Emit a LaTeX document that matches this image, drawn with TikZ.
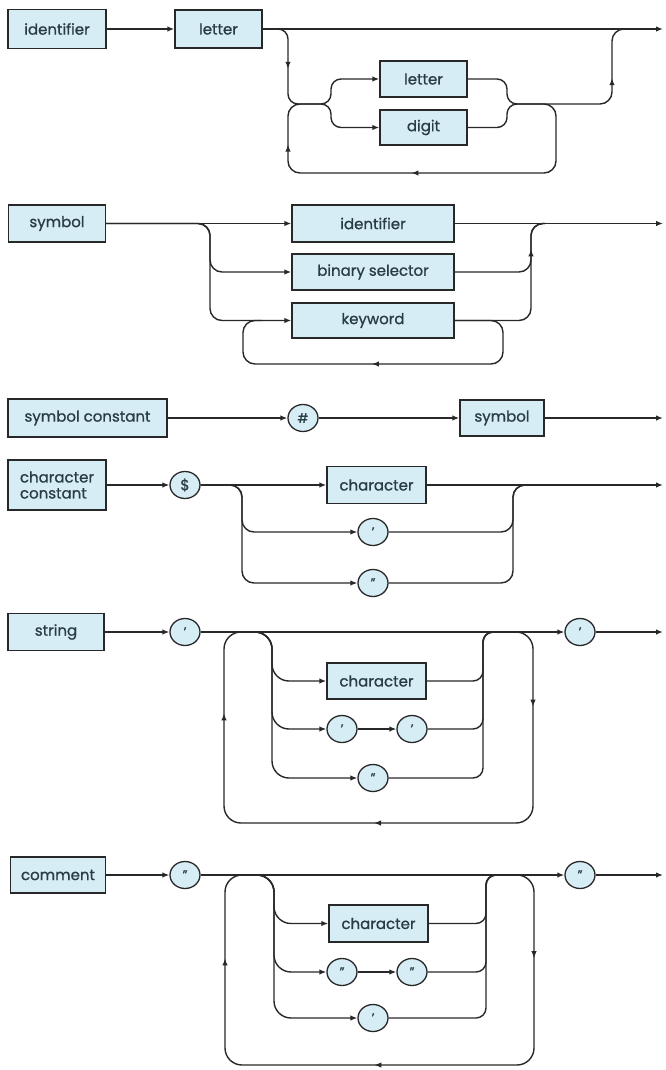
\documentclass[tikz,border=0pt]{standalone}
\usepackage{fontspec}
\setmainfont{Poppins}[FakeBold=0.9]
\usetikzlibrary{arrows.meta,decorations.markings,shapes.geometric}
\definecolor{boxfill}{RGB}{214,237,246}
\definecolor{ink}{RGB}{40,60,70}
\definecolor{wire}{RGB}{40,40,40}
\begin{document}
\begin{tikzpicture}[x=1pt,y=-1pt,
  ln/.style={draw=wire,line width=1.4pt},
  arr/.style={ln,-{Latex[length=7pt,width=5.5pt]}},
  mk/.style={postaction={decorate,decoration={markings,mark=at position #1 with {\arrow[wire]{Latex[length=7pt,width=5.5pt]}}}}},
  nt/.style={draw=wire,line width=1.4pt,fill=boxfill,text=ink,inner sep=0pt,font=\fontsize{15}{17}\selectfont},
  term/.style={ellipse,draw=wire,line width=1.3pt,fill=boxfill,text=ink,inner sep=0pt,minimum width=30,minimum height=27,font=\fontsize{13}{14}\selectfont}]
\fill[white] (0,0) rectangle (666,1070);
\useasboundingbox (0,0) rectangle (666,1070);

% ---------- identifier ----------
\node[nt,minimum width=98,minimum height=39] (id1) at (57,29) {identifier};
\node[nt,minimum width=87,minimum height=38] (let1) at (218.5,29) {letter};
\node[nt,minimum width=87,minimum height=36] (let2) at (423.5,79) {letter};
\node[nt,minimum width=87,minimum height=35] (dig) at (423.5,127.5) {digit};
\coordinate (e1) at (663,29);
\coordinate (j1) at (318,104);
\coordinate (m1) at (520,104);
\coordinate (r1) at (626,29);
\draw[arr] (id1) -- (let1);
\draw[arr] (let1) -- (e1);
\draw[ln,rounded corners=10,mk=0.5] (let1.east) -| (288,104) -- (j1);
\draw[arr,rounded corners=10] (j1) -| (331,79) -- (let2);
\draw[arr,rounded corners=10] (j1) -| (331,127.5) -- (dig);
\draw[ln,rounded corners=10] (let2) -| (507,104) -- (m1);
\draw[ln,rounded corners=10] (dig) -| (507,104) -- (m1);
\draw[ln,rounded corners=12,mk=0.66] (m1) -| (612,29) -- (r1);
\draw[ln,rounded corners=12,mk=0.53,mk=0.855] (m1) -| (556,173) -| (288,104) -- (j1);

% ---------- symbol ----------
\node[nt,minimum width=97,minimum height=37] (sym) at (57,223.5) {symbol};
\node[nt,minimum width=162,minimum height=37] (idb) at (373,223.5) {identifier};
\node[nt,minimum width=162,minimum height=36] (bsel) at (373,272) {binary selector};
\node[nt,minimum width=162,minimum height=35] (kw) at (373,320.5) {keyword};
\coordinate (e2) at (663,223.5);
\coordinate (r2) at (545,223.5);
\coordinate (k2) at (262,320.5);
\draw[arr] (sym) -- (idb);
\draw[arr] (idb) -- (e2);
\draw[arr,rounded corners=12] (sym.east) -| (210,272) -- (bsel);
\draw[arr,rounded corners=12] (sym.east) -| (210,320.5) -- (kw);
\draw[ln,rounded corners=12,mk=0.73] (bsel) -| (531,223.5) -- (r2);
\draw[ln,rounded corners=12] (kw) -| (531,223.5) -- (r2);
\draw[ln,rounded corners=12,mk=0.54] (kw.east) -| (503,364) -| (243,320.5) -- (k2);

% ---------- symbol constant ----------
\node[nt,minimum width=159,minimum height=38] (sc) at (87.5,418) {symbol constant};
\node[term] (hash) at (303,418) {\#};
\node[nt,minimum width=84,minimum height=36] (symb) at (502,418) {symbol};
\coordinate (e3) at (663,418);
\draw[arr] (sc) -- (hash);
\draw[arr] (hash) -- (symb);
\draw[arr] (symb) -- (e3);

% ---------- character constant ----------
\node[nt,minimum width=98,minimum height=50,align=left,font=\fontsize{15}{16}\selectfont] (cc) at (57,485) {character\\constant};
\node[term,font=\fontsize{15}{17}\selectfont] (dol) at (185,485) {\$};
\node[nt,minimum width=99,minimum height=37] (ch4) at (376.5,485) {character};
\node[term] (q4a) at (373,532) {\symbol{39}};
\node[term] (q4b) at (373,583) {\symbol{34}};
\coordinate (e4) at (663,485);
\coordinate (r4) at (527,485);
\draw[arr] (cc) -- (dol);
\draw[arr] (dol) -- (ch4);
\draw[arr] (ch4) -- (e4);
\draw[arr,rounded corners=12] (dol.east) -| (242,532) -- (q4a);
\draw[arr,rounded corners=12] (dol.east) -| (242,583) -- (q4b);
\draw[ln,rounded corners=12] (q4a) -| (513,485) -- (r4);
\draw[ln,rounded corners=12] (q4b) -| (513,485) -- (r4);

% ---------- string ----------
\node[nt,minimum width=96,minimum height=37] (str) at (56,632) {string};
\node[term] (q5a) at (185,632) {\symbol{39}};
\node[term] (q5b) at (580,632) {\symbol{39}};
\node[nt,minimum width=99,minimum height=36] (ch5) at (376.5,681) {character};
\node[term] (q5c) at (342,729) {\symbol{39}};
\node[term] (q5d) at (412,729) {\symbol{39}};
\node[term] (q5e) at (373,778) {\symbol{34}};
\coordinate (e5) at (663,632);
\coordinate (L5) at (248,632);
\coordinate (R5) at (508,632);
\draw[arr] (str) -- (q5a);
\draw[arr] (q5a) -- (q5b);
\draw[arr] (q5b) -- (e5);
\draw[arr,rounded corners=17] (L5) -| (272,681) [rounded corners=10] -- (ch5);
\draw[arr,rounded corners=17] (L5) -| (272,729) [rounded corners=10] -- (q5c);
\draw[arr,rounded corners=17] (L5) -| (272,778) [rounded corners=10] -- (q5e);
\draw[arr] (q5c) -- (q5d);
\draw[ln,rounded corners=10] (ch5) -| (483,632) [rounded corners=17] -- (R5);
\draw[ln,rounded corners=10] (q5d) -| (483,632) [rounded corners=17] -- (R5);
\draw[ln,rounded corners=10] (q5e) -| (483,632) [rounded corners=17] -- (R5);
\draw[ln,rounded corners=17,mk=0.13,mk=0.507,mk=0.862] (R5) -| (533,823) -| (224,632) -- (L5);

% ---------- comment ----------
\node[nt,minimum width=95,minimum height=36] (com) at (58,875) {comment};
\node[term] (c6a) at (185,875) {\symbol{34}};
\node[term] (c6b) at (580,875) {\symbol{34}};
\node[nt,minimum width=99,minimum height=37] (ch6) at (378.5,923.5) {character};
\node[term] (c6c) at (342,972) {\symbol{34}};
\node[term] (c6d) at (412,972) {\symbol{34}};
\node[term] (c6e) at (373,1018) {\symbol{39}};
\coordinate (e6) at (663,875);
\coordinate (L6) at (249.5,875);
\coordinate (R6) at (510,875);
\draw[arr] (com) -- (c6a);
\draw[arr] (c6a) -- (c6b);
\draw[arr] (c6b) -- (e6);
\draw[arr,rounded corners=17] (L6) -| (274,923.5) [rounded corners=10] -- (ch6);
\draw[arr,rounded corners=17] (L6) -| (274,972) [rounded corners=10] -- (c6c);
\draw[arr,rounded corners=17] (L6) -| (274,1018) [rounded corners=10] -- (c6e);
\draw[arr] (c6c) -- (c6d);
\draw[ln,rounded corners=10] (ch6) -| (486,875) [rounded corners=17] -- (R6);
\draw[ln,rounded corners=10] (c6d) -| (486,875) [rounded corners=17] -- (R6);
\draw[ln,rounded corners=10] (c6e) -| (486,875) [rounded corners=17] -- (R6);
\draw[ln,rounded corners=17,mk=0.141,mk=0.507,mk=0.858] (R6) -| (534,1065) -| (225,875) -- (L6);
\end{tikzpicture}
\end{document}
